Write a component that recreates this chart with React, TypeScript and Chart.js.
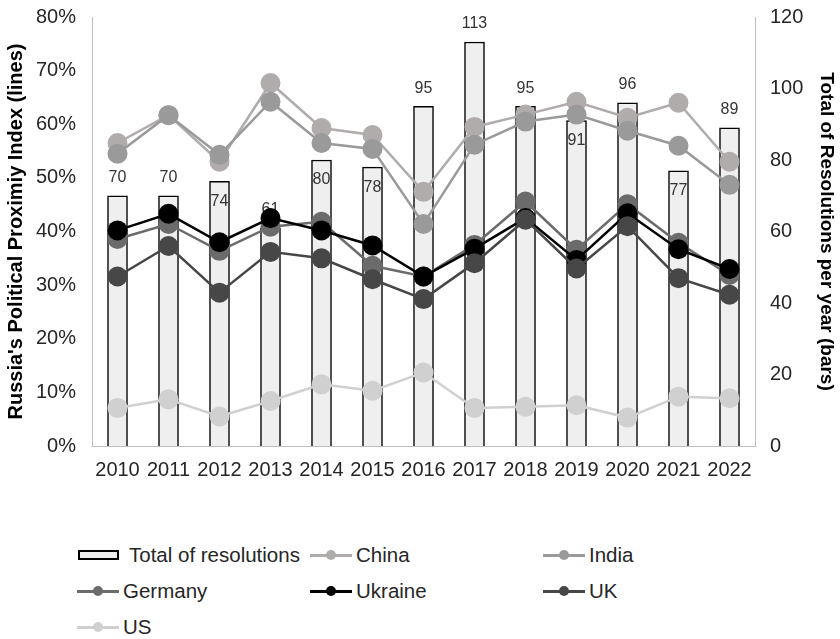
import React, { useEffect, useRef } from 'react';
import { Chart, registerables } from 'chart.js';

Chart.register(...registerables);

const years = ['2010', '2011', '2012', '2013', '2014', '2015', '2016', '2017', '2018', '2019', '2020', '2021', '2022'];
const totalResolutions = [70, 70, 74, 61, 80, 78, 95, 113, 95, 91, 96, 77, 89];
const china = [56.5, 61.7, 53.0, 67.7, 59.3, 58.0, 47.4, 59.5, 61.8, 64.2, 61.2, 64.0, 53.0];
const india = [54.5, 61.7, 54.3, 64.2, 56.5, 55.4, 41.4, 56.2, 60.5, 61.8, 58.8, 56.0, 48.7];
const germany = [38.6, 41.4, 36.4, 40.9, 41.8, 33.6, 31.6, 37.5, 45.6, 36.6, 45.1, 37.9, 31.9];
const ukraine = [40.2, 43.3, 38.0, 42.5, 40.2, 37.4, 31.6, 36.8, 42.5, 34.7, 43.4, 36.7, 33.0];
const uk = [31.6, 37.3, 28.6, 36.2, 35.0, 31.1, 27.4, 34.1, 42.2, 33.1, 41.0, 31.3, 28.2];
const us = [7.1, 8.7, 5.5, 8.4, 11.5, 10.3, 13.7, 7.1, 7.3, 7.6, 5.3, 9.2, 8.9];

// label placement style: true = drawn inside bar below its top
const labelInside = [false, false, true, false, true, true, false, false, false, true, false, true, false];

const FONT = '"Liberation Sans", Arial, sans-serif';

const lineSeries = [
  { label: 'China', data: china, color: '#b1acac' },
  { label: 'India', data: india, color: '#9a9a9a' },
  { label: 'Germany', data: germany, color: '#6b6b6b' },
  { label: 'Ukraine', data: ukraine, color: '#000000' },
  { label: 'UK', data: uk, color: '#474747' },
  { label: 'US', data: us, color: '#d0d0d0' },
];

const barLabelPlugin = {
  id: 'barLabels',
  afterDatasetDraw(chart: any, args: any) {
    if (args.index !== 0) return;
    const ctx = chart.ctx;
    ctx.save();
    ctx.font = `16px ${FONT}`;
    ctx.fillStyle = '#333333';
    ctx.textAlign = 'center';
    ctx.textBaseline = 'middle';
    args.meta.data.forEach((bar: any, i: number) => {
      const y = labelInside[i] ? bar.y + 20 : bar.y - 18;
      ctx.fillText(String(totalResolutions[i]), bar.x, y);
    });
    ctx.restore();
  },
};

export default function App() {
  const ref = useRef<HTMLCanvasElement>(null);
  useEffect(() => {
    if (!ref.current) return;
    const datasets: any[] = [
      {
        type: 'bar',
        label: 'Total of resolutions',
        data: totalResolutions,
        yAxisID: 'y1',
        backgroundColor: '#efefef',
        borderColor: '#000000',
        borderWidth: 1.5,
        barThickness: 20,
        order: 10,
      },
      ...lineSeries.map((s, i) => ({
        type: 'line',
        label: s.label,
        data: s.data,
        yAxisID: 'y',
        borderColor: s.color,
        backgroundColor: s.color,
        pointBackgroundColor: s.color,
        pointBorderColor: s.color,
        pointRadius: 10,
        pointBorderWidth: 0,
        borderWidth: 2.5,
        tension: 0,
        order: lineSeries.length - i,
      })),
    ];
    const chart = new Chart(ref.current, {
      type: 'bar',
      data: { labels: years, datasets },
      plugins: [barLabelPlugin],
      options: {
        animation: false,
        responsive: false,
        maintainAspectRatio: false,
        layout: { padding: { top: 17, left: 0, right: 0, bottom: 0 } },
        plugins: { legend: { display: false }, tooltip: { enabled: false } },
        scales: {
          x: {
            grid: { display: false, drawTicks: false },
            border: { display: true, color: '#bfbfbf', width: 1 },
            ticks: { font: { family: FONT, size: 20 }, color: '#262626', padding: 12, maxRotation: 0, autoSkip: false },
            afterFit: (s: any) => { s.height = 44; s.paddingLeft = 0; s.paddingRight = 0; },
          },
          y: {
            position: 'left',
            min: 0,
            max: 80,
            grid: { display: false, drawTicks: false },
            border: { display: true, color: '#bfbfbf', width: 1 },
            ticks: { stepSize: 10, padding: 16, font: { family: FONT, size: 20 }, color: '#262626', callback: (v: any) => v + '%' },
            title: { display: true, text: "Russia's Political Proximiy Index (lines)", font: { family: FONT, size: 20, weight: 'bold' }, color: '#000000', padding: { top: 4, bottom: 0 } },
            afterFit: (s: any) => { s.width = 92; s.paddingTop = 0; s.paddingBottom = 0; },
          },
          y1: {
            position: 'right',
            min: 0,
            max: 120,
            grid: { display: false, drawTicks: false },
            border: { display: true, color: '#bfbfbf', width: 1 },
            ticks: { stepSize: 20, padding: 15, font: { family: FONT, size: 20 }, color: '#262626' },
            title: { display: true, text: 'Total of Resolutions per year (bars)', font: { family: FONT, size: 19, weight: 'bold' }, color: '#000000', padding: { top: 2, bottom: 0 } },
            afterFit: (s: any) => { s.width = 85; s.paddingTop = 0; s.paddingBottom = 0; },
          },
        },
      } as any,
    });
    return () => chart.destroy();
  }, []);

  const legendItems = [
    { label: 'Total of resolutions', box: true, color: '#efefef' },
    ...lineSeries.map((s) => ({ label: s.label, box: false, color: s.color })),
  ];

  return (
    <div style={{ position: 'absolute', left: 0, top: 0, width: 840, height: 639, background: '#fff' }}>
      <canvas ref={ref} width={840} height={490} style={{ display: 'block', width: 840, height: 490 }} />
      <div
        style={{
          position: 'absolute',
          left: 77,
          top: 537,
          display: 'grid',
          gridTemplateColumns: '233px 233px 200px',
          gridAutoRows: '36px',
          fontFamily: FONT,
          fontSize: 20.5,
          color: '#262626',
        }}
      >
        {legendItems.map((it) => (
          <div key={it.label} style={{ display: 'flex', alignItems: 'center', whiteSpace: 'nowrap' }}>
            {it.box ? (
              <span style={{ display: 'inline-block', flexShrink: 0, boxSizing: 'border-box', width: 41, height: 10, border: '2px solid #000', background: it.color, marginLeft: 1, marginRight: 10 }} />
            ) : (
              <span style={{ position: 'relative', flexShrink: 0, display: 'inline-block', width: 42, height: 12, marginRight: 4 }}>
                <span style={{ position: 'absolute', left: 0, right: 0, top: 4.5, height: 3, background: it.color }} />
                <span style={{ position: 'absolute', left: 16, top: 1, width: 10, height: 10, borderRadius: 5, background: it.color }} />
              </span>
            )}
            <span>{it.label}</span>
          </div>
        ))}
      </div>
    </div>
  );
}
